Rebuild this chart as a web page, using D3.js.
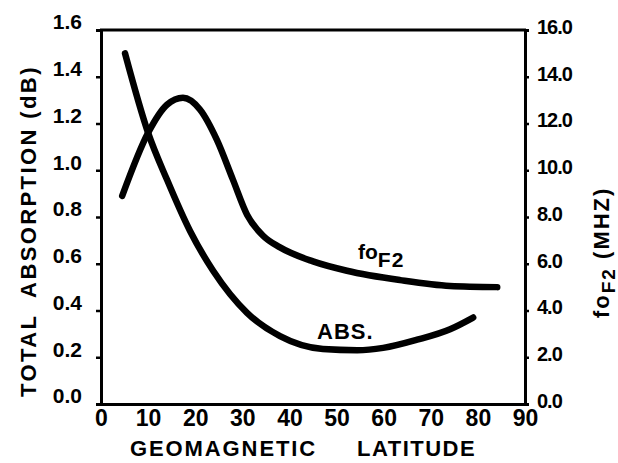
<!DOCTYPE html>
<html><head><meta charset="utf-8">
<script src="https://cdn.jsdelivr.net/npm/d3@7"></script>
<style>
html,body{margin:0;padding:0;background:#fff;}
svg text{font-family:"Liberation Sans",Arial,sans-serif;font-weight:bold;fill:#000;}
</style></head>
<body><svg id="c" width="618" height="463"></svg>
<script>
// Data
const absLat = [5.1, 10.0, 14.0, 18.9, 23.8, 31.0, 38.0, 47.1, 54.4, 59.9, 67.1, 74.1, 79.0];
const absVal = [1.50, 1.16, 0.96, 0.74, 0.57, 0.39, 0.29, 0.235, 0.23, 0.24, 0.275, 0.32, 0.37];
const fofLat = [4.5, 10.0, 14.0, 17.4, 21.0, 24.6, 28.0, 31.0, 34.4, 38.0, 45.0, 52.2, 63.5, 74.1, 84.1];
const fofVal = [8.9, 11.6, 12.8, 13.1, 12.6, 11.3, 9.6, 8.1, 7.2, 6.7, 6.1, 5.7, 5.3, 5.05, 5.0];
const xTicks = [0,10,20,30,40,50,60,70,80,90];
const yLeftTicks = [0,0.2,0.4,0.6,0.8,1.0,1.2,1.4,1.6];
const yRightTicks = [0,2,4,6,8,10,12,14,16];

const svg = d3.select("#c");
const L=101, R=525, T=30, B=404;
const x = d3.scaleLinear().domain([0,90]).range([L,R]);
const yL = d3.scaleLinear().domain([0,1.6]).range([B,T]);
const yR = d3.scaleLinear().domain([0,16]).range([B,T]);

// frame top
svg.append("line").attr("x1",L-1).attr("x2",R+1).attr("y1",T).attr("y2",T)
  .attr("stroke","#000").attr("stroke-width",3);

// axes
const gx = svg.append("g").attr("transform",`translate(0,${B})`)
  .call(d3.axisBottom(x).tickValues(xTicks).tickSize(0).tickPadding(5).tickFormat(d3.format("d")));
const gl = svg.append("g").attr("transform",`translate(${L},0)`)
  .call(d3.axisLeft(yL).tickValues(yLeftTicks).tickSize(5).tickPadding(14).tickFormat(d3.format(".1f")));
const gr = svg.append("g").attr("transform",`translate(${R},0)`)
  .call(d3.axisRight(yR).tickValues(yRightTicks).tickSize(4).tickPadding(8).tickFormat(d3.format(".1f")));
[gx,gl,gr].forEach(g=>{
  g.select(".domain").attr("stroke","#000").attr("stroke-width",3);
  g.selectAll(".tick line").attr("stroke","#000").attr("stroke-width",2.5);
  g.selectAll(".tick text").attr("font-family","Liberation Sans, Arial, sans-serif").attr("font-weight","bold").attr("fill","#000");
});
gx.selectAll(".tick text").attr("font-size",23).attr("dy","0.75em");
gl.selectAll(".tick text").attr("font-size",21).attr("dy","-0.05em");
gr.selectAll(".tick text").attr("font-size",20).attr("letter-spacing","-1").attr("dy","0.17em");

// curves
const line = d3.line().curve(d3.curveMonotoneX);
svg.append("path").attr("d", line(absLat.map((d,i)=>[x(d), yL(absVal[i])])))
  .attr("fill","none").attr("stroke","#000").attr("stroke-width",6.5).attr("stroke-linecap","round");
svg.append("path").attr("d", line(fofLat.map((d,i)=>[x(d), yR(fofVal[i])])))
  .attr("fill","none").attr("stroke","#000").attr("stroke-width",6.5).attr("stroke-linecap","round");

// curve labels
svg.append("text").attr("x",317).attr("y",339).attr("font-size",22).attr("letter-spacing","1").text("ABS.");
const f = svg.append("text").attr("x",358).attr("y",259).attr("font-size",21);
f.append("tspan").text("fo");
f.append("tspan").attr("dy",8).attr("letter-spacing","1").text("F2");

// axis titles
svg.append("text").attr("x",130).attr("y",456).attr("font-size",22).attr("letter-spacing","1.9").text("GEOMAGNETIC");
svg.append("text").attr("x",357).attr("y",456).attr("font-size",22).attr("letter-spacing","1.5").text("LATITUDE");
svg.append("text").attr("transform","translate(36,397) rotate(-90)").attr("font-size",22)
  .attr("letter-spacing","2.4").attr("xml:space","preserve").text("TOTAL  ABSORPTION (dB)");
const rt = svg.append("text").attr("transform","translate(609,318) rotate(-90)").attr("font-size",22)
  .attr("letter-spacing","2").attr("xml:space","preserve");
rt.append("tspan").text("fo");
rt.append("tspan").attr("dy",6).attr("font-size",19).text("F2");
rt.append("tspan").attr("dy",-6).text(" (MHZ)");
</script></body></html>
